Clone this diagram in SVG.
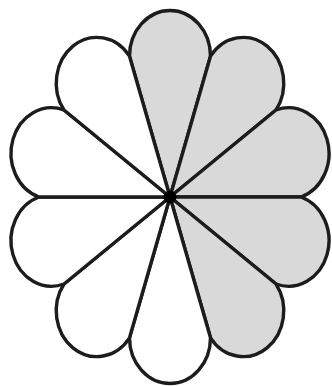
<svg xmlns="http://www.w3.org/2000/svg" width="332" height="386" viewBox="0 0 332 386">
<style>
.petal{stroke:#1c1c1c;stroke-width:3.4;stroke-linejoin:round}
.shade{fill:#d9d9d9}
.white{fill:#ffffff}
</style>
<rect width="332" height="386" fill="#ffffff"/>
<g id="petal-090"><path class="petal shade" d="M170 197 L210.5 56.2 A40.5 45.7 0 0 0 129.5 56.2 Z"/></g>
<g id="petal-054"><path class="petal shade" d="M170 197 L276 110 A40.5 45.7 0 0 0 210.5 56.2 Z"/></g>
<g id="petal-018"><path class="petal shade" d="M170 197 L301 197 A40.5 45.7 0 0 0 276 110 Z"/></g>
<g id="petal-342"><path class="petal shade" d="M170 197 L276 284 A40.5 45.7 0 0 0 301 197 Z"/></g>
<g id="petal-306"><path class="petal shade" d="M170 197 L210.5 337.8 A40.5 45.7 0 0 0 276 284 Z"/></g>
<g id="petal-270"><path class="petal white" d="M170 197 L129.5 337.8 A40.5 45.7 0 0 0 210.5 337.8 Z"/></g>
<g id="petal-234"><path class="petal white" d="M170 197 L64 284 A40.5 45.7 0 0 0 129.5 337.8 Z"/></g>
<g id="petal-198"><path class="petal white" d="M170 197 L39 197 A40.5 45.7 0 0 0 64 284 Z"/></g>
<g id="petal-162"><path class="petal white" d="M170 197 L64 110 A40.5 45.7 0 0 0 39 197 Z"/></g>
<g id="petal-126"><path class="petal white" d="M170 197 L129.5 56.2 A40.5 45.7 0 0 0 64 110 Z"/></g>
<g id="center"><circle cx="170" cy="197" r="6.5" fill="#000000"/></g>
</svg>
